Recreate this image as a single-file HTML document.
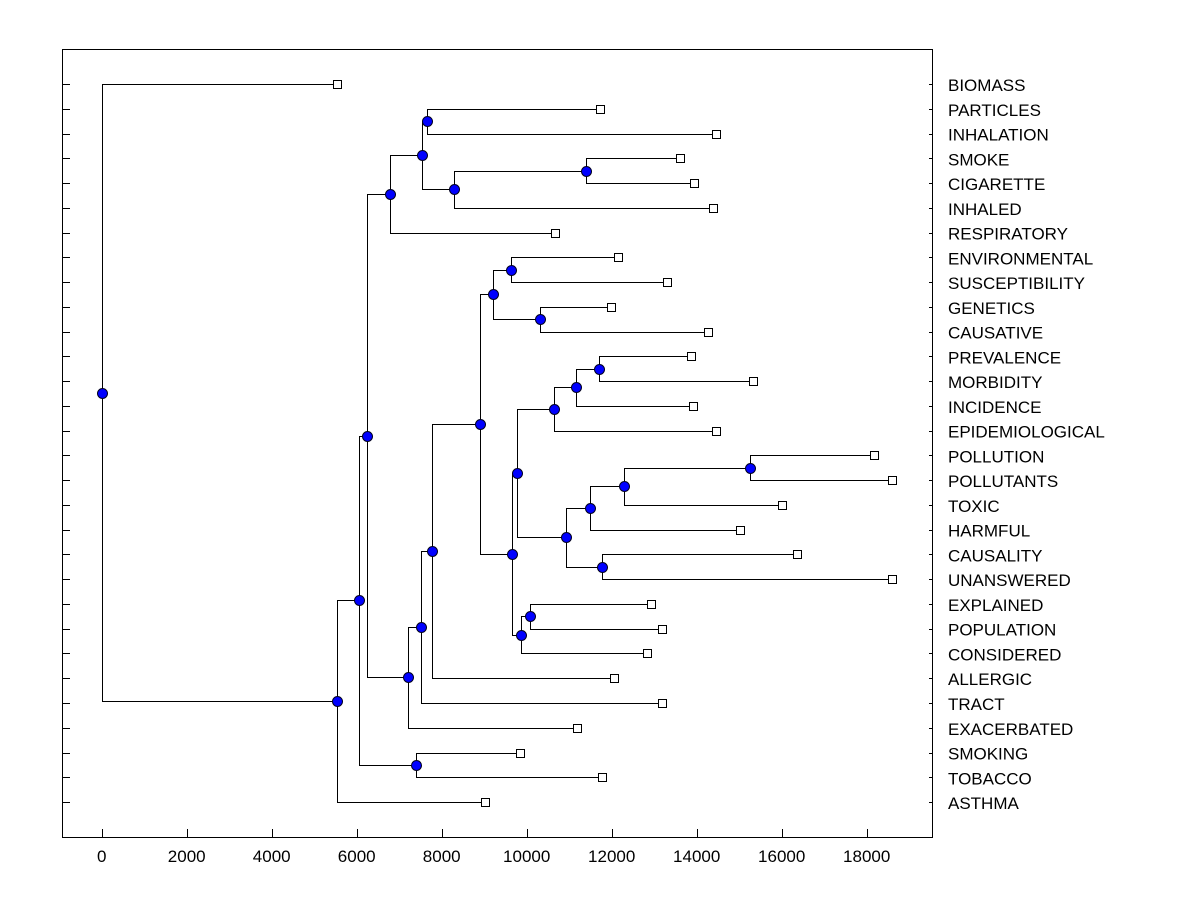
<!DOCTYPE html>
<html><head><meta charset="utf-8"><style>
html,body{margin:0;padding:0;background:#fff;}
svg text{font-family:"Liberation Sans",Arial,sans-serif;font-size:17px;fill:#000;}
</style></head><body>
<svg id="chart" width="1200" height="900" xmlns="http://www.w3.org/2000/svg">
<rect x="62.5" y="49.5" width="870" height="788" fill="none" stroke="#000" stroke-width="1" shape-rendering="crispEdges"/>
<g id="links" shape-rendering="crispEdges"></g><g id="marks"></g><g id="axes"></g>
</svg>
<script>
const leafNames = ["BIOMASS","PARTICLES","INHALATION","SMOKE","CIGARETTE","INHALED","RESPIRATORY","ENVIRONMENTAL","SUSCEPTIBILITY","GENETICS","CAUSATIVE","PREVALENCE","MORBIDITY","INCIDENCE","EPIDEMIOLOGICAL","POLLUTION","POLLUTANTS","TOXIC","HARMFUL","CAUSALITY","UNANSWERED","EXPLAINED","POPULATION","CONSIDERED","ALLERGIC","TRACT","EXACERBATED","SMOKING","TOBACCO","ASTHMA"];
const leafValues = [5537,11725,14454,13607,13936,14383,10666,12148,13301,11984,14266,13866,15325,13913,14454,18172,18595,16007,15019,16360,18595,12925,13184,12831,12054,13184,11184,9843,11772,9019];
// merges: [childA, childB]; ids < 30 are leaves, >= 30 refer to earlier merges
const mergeChildren = [[1,2],[3,4],[31,5],[30,32],[33,6],[7,8],[9,10],[35,36],[11,12],[38,13],[39,14],[15,16],[41,17],[42,18],[19,20],[43,44],[40,45],[21,22],[47,23],[46,48],[37,49],[50,24],[51,25],[52,26],[34,53],[27,28],[54,55],[56,29],[0,57]];
const mergeHeights = [7655,11396,8290,7537,6784,9631,10313,9207,11701,11160,10642,15254,12290,11490,11772,10925,9772,10078,9866,9654,8901,7772,7513,7208,6243,7396,6054,5537,0];
const xTicks = [0,2000,4000,6000,8000,10000,12000,14000,16000,18000];

const NS="http://www.w3.org/2000/svg";
const xs = v => 101.7 + v*0.0425;
const rowY = i => 84 + i*24.76;
const px = v => Math.round(v)+0.5;
const links=document.getElementById('links'), marks=document.getElementById('marks'), axes=document.getElementById('axes');
function mk(tag, attrs, parent){const e=document.createElementNS(NS,tag);for(const k in attrs)e.setAttribute(k,attrs[k]);parent.appendChild(e);return e;}

const pos = [];
leafValues.forEach((v,i)=>{pos[i]={x:xs(v),y:rowY(i)};});
mergeChildren.forEach((c,k)=>{
  const a=pos[c[0]], b=pos[c[1]], x=xs(mergeHeights[k]);
  pos[30+k]={x:x,y:(a.y+b.y)/2};
  const p=mk('path',{d:`M${px(a.x)},${px(a.y)}H${px(x)}V${px(b.y)}H${px(b.x)}`,fill:'none',stroke:'#000','stroke-width':1},links);
  
  
});
mergeChildren.forEach((c,k)=>{
  const p=pos[30+k];
  const ci=mk('circle',{cx:px(p.x),cy:px(p.y),r:5,fill:'#0000ff',stroke:'#000020','stroke-width':1},marks);
  
  
});
leafValues.forEach((v,i)=>{
  const p=pos[i];
  const r=mk('rect',{x:Math.round(p.x)-3.5,y:Math.round(p.y)-3.5,width:8,height:8,fill:'#fff',stroke:'#000','stroke-width':1,'shape-rendering':'crispEdges'},marks);
  
  
  const t=mk('text',{x:948,y:p.y+7},axes);
  t.textContent=leafNames[i];
  
  
  const tk=mk('line',{x1:62,x2:70,y1:px(p.y),y2:px(p.y),stroke:'#000','shape-rendering':'crispEdges'},axes);
  
  
  const tk2=mk('line',{x1:929,x2:933,y1:px(p.y),y2:px(p.y),stroke:'#000','shape-rendering':'crispEdges'},axes);
  
  
});
xTicks.forEach(v=>{
  const x=px(xs(v));
  const l=mk('line',{x1:x,x2:x,y1:829,y2:838,stroke:'#000','shape-rendering':'crispEdges'},axes);
  
  
  const t=mk('text',{x:xs(v),y:862,'text-anchor':'middle'},axes);
  t.textContent=v;
  
  
});
</script>
</body></html>
